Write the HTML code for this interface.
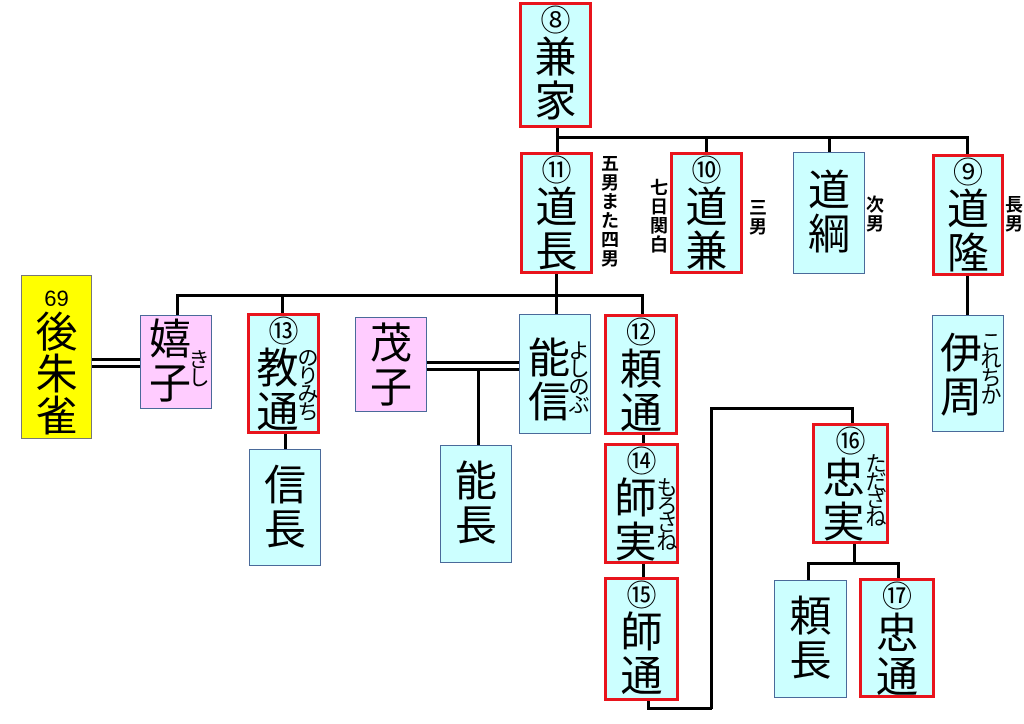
<!DOCTYPE html>
<html><head><meta charset="utf-8"><style>
body{margin:0;width:1024px;height:724px;background:#fff;position:relative;overflow:hidden;font-family:"Liberation Sans","Noto Sans CJK JP",sans-serif;}
.b{position:absolute;box-sizing:border-box;background:#ccffff;border:1.5px solid #4a6a9a;text-align:center;color:#000;}
.r{border:3px solid #e8141c;}
.p{background:#ffccff;}
.y{background:#ffff00;border-color:#777;}
.n{font-size:30px;line-height:28px;margin-top:3px;}
.c{font-size:42px;line-height:44px;}
.ru{position:absolute;width:22px;font-family:"Noto Sans CJK JP",sans-serif;}
.ru span{display:block;font-size:21px;line-height:18px;height:18px;text-align:center;}
.l{position:absolute;background:#000;}
.v{position:absolute;width:20px;font-family:"Noto Sans CJK JP",sans-serif;font-weight:bold;}
.v span{display:block;font-size:18px;line-height:19px;height:19px;text-align:center;}
</style></head><body>
<div class="l" style="left:556px;top:127px;width:3px;height:11px"></div>
<div class="l" style="left:556px;top:136px;width:412px;height:3px"></div>
<div class="l" style="left:556px;top:136px;width:3px;height:17px"></div>
<div class="l" style="left:705px;top:136px;width:3px;height:17px"></div>
<div class="l" style="left:828px;top:136px;width:3px;height:17px"></div>
<div class="l" style="left:966px;top:136px;width:3px;height:19px"></div>
<div class="l" style="left:966px;top:275px;width:3px;height:41px"></div>
<div class="l" style="left:555px;top:273px;width:3px;height:42px"></div>
<div class="l" style="left:176px;top:294px;width:467px;height:3px"></div>
<div class="l" style="left:176px;top:294px;width:3px;height:22px"></div>
<div class="l" style="left:281px;top:294px;width:3px;height:20px"></div>
<div class="l" style="left:641px;top:294px;width:3px;height:21px"></div>
<div class="l" style="left:91px;top:358px;width:50px;height:2.5px"></div>
<div class="l" style="left:91px;top:365px;width:50px;height:2.5px"></div>
<div class="l" style="left:426px;top:361px;width:94px;height:2.5px"></div>
<div class="l" style="left:426px;top:368px;width:94px;height:2.5px"></div>
<div class="l" style="left:477px;top:368px;width:2.5px;height:78px"></div>
<div class="l" style="left:284px;top:433px;width:2.5px;height:17px"></div>
<div class="l" style="left:642px;top:434px;width:2.5px;height:10px"></div>
<div class="l" style="left:642px;top:563px;width:2.5px;height:15px"></div>
<div class="l" style="left:647px;top:700px;width:2.5px;height:9px"></div>
<div class="l" style="left:647px;top:707px;width:65px;height:2.5px"></div>
<div class="l" style="left:710px;top:408px;width:2.5px;height:301px"></div>
<div class="l" style="left:710px;top:407px;width:144px;height:2.5px"></div>
<div class="l" style="left:851px;top:407px;width:2.5px;height:17px"></div>
<div class="l" style="left:853px;top:543px;width:2.5px;height:20px"></div>
<div class="l" style="left:807px;top:562px;width:93px;height:2.5px"></div>
<div class="l" style="left:807px;top:562px;width:2.5px;height:19px"></div>
<div class="l" style="left:897px;top:562px;width:2.5px;height:18px"></div>
<div class="b r" style="left:519px;top:2px;width:73px;height:126px"><div class="n">⑧</div><div class="c">兼<br>家</div></div>
<div class="b r" style="left:520px;top:152px;width:73px;height:122px"><div class="n">⑪</div><div class="c">道<br>長</div></div>
<div class="b r" style="left:670px;top:152px;width:73px;height:122px"><div class="n">⑩</div><div class="c">道<br>兼</div></div>
<div class="b" style="left:793px;top:152px;width:72px;height:122px"><div class="c" style="margin-top:16px">道<br>綱</div></div>
<div class="b r" style="left:932px;top:154px;width:72px;height:122px"><div class="n">⑨</div><div class="c">道<br>隆</div></div>
<div class="v" style="left:600px;top:154px"><span>五</span><span>男</span><span>ま</span><span>た</span><span>四</span><span>男</span></div>
<div class="v" style="left:649px;top:178px"><span>七</span><span>日</span><span>関</span><span>白</span></div>
<div class="v" style="left:748px;top:198px"><span>三</span><span>男</span></div>
<div class="v" style="left:865px;top:195px"><span>次</span><span>男</span></div>
<div class="v" style="left:1004px;top:195px"><span>長</span><span>男</span></div>
<div class="b y" style="left:21px;top:275px;width:71px;height:164px"><div style="font-size:22px;margin-top:10px;line-height:26px">69</div><div class="c" style="line-height:42px">後<br>朱<br>雀</div></div>
<div class="b p" style="left:140px;top:315px;width:72px;height:94px"><div class="c" style="margin:2px 0 0 -12px">嬉<br>子</div><div class="ru" style="left:47px;top:34px"><span>き</span><span>し</span></div></div>
<div class="b r" style="left:247px;top:313px;width:73px;height:121px"><div class="n">⑬</div><div class="c" style="margin-left:-12px">教<br>通</div><div class="ru" style="left:47px;top:32px"><span>の</span><span>り</span><span>み</span><span>ち</span></div></div>
<div class="b p" style="left:355px;top:317px;width:72px;height:95px"><div class="c" style="margin-top:4px">茂<br>子</div></div>
<div class="b" style="left:519px;top:314px;width:72px;height:120px"><div class="c" style="margin:22px 0 0 -12px">能<br>信</div><div class="ru" style="left:48px;top:26px"><span>よ</span><span>し</span><span>の</span><span>ぶ</span></div></div>
<div class="b r" style="left:604px;top:314px;width:74px;height:121px"><div class="n">⑫</div><div class="c">頼<br>通</div></div>
<div class="b" style="left:249px;top:449px;width:72px;height:117px"><div class="c" style="margin-top:14px">信<br>長</div></div>
<div class="b" style="left:440px;top:445px;width:72px;height:118px"><div class="c" style="margin-top:14px">能<br>長</div></div>
<div class="b r" style="left:604px;top:443px;width:75px;height:121px"><div class="n">⑭</div><div class="c" style="margin-left:-12px">師<br>実</div><div class="ru" style="left:49px;top:32px"><span>も</span><span>ろ</span><span>さ</span><span>ね</span></div></div>
<div class="b r" style="left:604px;top:577px;width:75px;height:124px"><div class="n">⑮</div><div class="c">師<br>通</div></div>
<div class="b" style="left:932px;top:315px;width:72px;height:117px"><div class="c" style="margin:16px 0 0 -14px">伊<br>周</div><div class="ru" style="left:47px;top:16px"><span>こ</span><span>れ</span><span>ち</span><span>か</span></div></div>
<div class="b r" style="left:812px;top:423px;width:77px;height:121px"><div class="n">⑯</div><div class="c" style="margin-left:-14px">忠<br>実</div><div class="ru" style="left:50px;top:28px"><span>た</span><span>だ</span><span>ざ</span><span>ね</span></div></div>
<div class="b" style="left:774px;top:580px;width:73px;height:118px"><div class="c" style="margin-top:14px">頼<br>長</div></div>
<div class="b r" style="left:859px;top:578px;width:76px;height:120px"><div class="n">⑰</div><div class="c">忠<br>通</div></div>
</body></html>
